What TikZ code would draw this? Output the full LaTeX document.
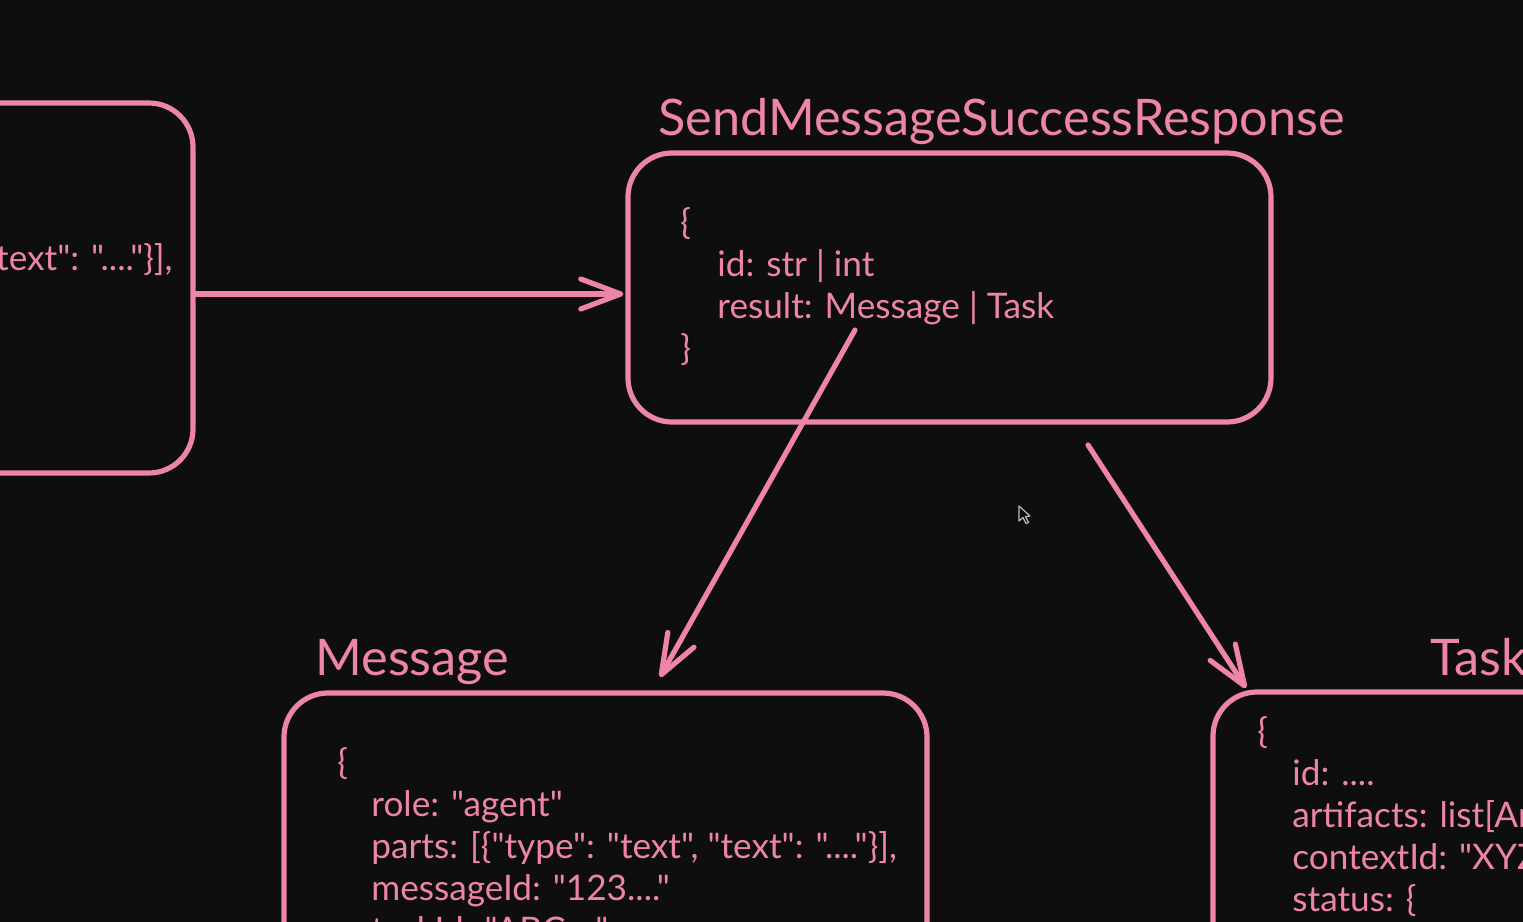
\documentclass[tikz,border=0pt]{standalone}
\usepackage{fontspec}
\setmainfont{Lato}[Ligatures=TeXOff]
\usetikzlibrary{arrows.meta}
\definecolor{bg}{RGB}{14,14,14}
\definecolor{pk}{RGB}{238,133,168}
\definecolor{cur}{RGB}{185,185,185}
\begin{document}
\begin{tikzpicture}[x=0.5pt,y=-0.5pt,
  box/.style={draw=pk, line width=2.6pt, rounded corners=22pt, rectangle, inner sep=0pt},
  code/.style={text=pk, font=\fontsize{17.6}{21}\selectfont, anchor=base west, inner sep=0pt},
  title/.style={text=pk, font=\fontsize{25.2}{30}\selectfont, anchor=base west, inner sep=0pt},
  conn/.style={draw=pk, line width=2.6pt, line cap=round,
    -{Straight Barb[length=20pt,width=15pt,line cap=round,line join=round]}}]
\useasboundingbox (0,0) rectangle (1523,922);
\fill[bg] (0,0) rectangle (1523,922);
\clip (0,0) rectangle (1523,922);

% boxes
\node[box, minimum width=321.5pt, minimum height=185pt] (lb) at (-128.5,288) {};
\node[box, minimum width=321.5pt, minimum height=134.5pt] (smsr) at (949.5,287.5) {};
\node[box, minimum width=321.5pt, minimum height=203.5pt] (msg) at (605.5,896.5) {};
\node[box, minimum width=321.5pt, minimum height=204pt] (task) at (1534.5,896) {};

% titles
\node[title] (smsrt) at (658,135) {SendMessageSuccessResponse};
\node[title] (msgt) at (315,675) {Message};
\node[title] (taskt) at (1430,675) {Task};

% left box text
\node[code, anchor=base east] (l1) at (173,270) {text": "...."\}],};

% SMSR text
\node[code] (s0) at (680,234) {\{};
\node[code] (s1) at (717,276) {id: str | int};
\node[code] (s2) at (717,318) {result: Message | Task};
\node[code] (s3) at (680,360) {\}};

% Message text
\node[code] (m0) at (337,774) {\{};
\node[code] (m1) at (371,816) {role: "agent"};
\node[code] (m2) at (371,858) {parts: [\{"type": "text", "text": "...."\}],};
\node[code] (m3) at (371,900) {messageId: "123...."};
\node[code] (m4) at (371,942) {taskId: "ABC...."};

% Task text
\node[code] (t0) at (1257,743) {\{};
\node[code] (t1) at (1292,785) {id: ....};
\node[code] (t2) at (1292,827) {artifacts: list[Artifact]};
\node[code] (t3) at (1292,869) {contextId: "XYZ...."};
\node[code] (t4) at (1292,911) {status: \{};

% connectors
\coordinate (r1) at (855,330);
\coordinate (r2) at (1088,445);
\coordinate (mtip) at (660,677);
\coordinate (ttip) at (1246,688);
\draw[conn] (lb.east |- 0,294) -- ([xshift=-1pt]smsr.west |- 0,294);
\draw[conn] (r1) -- (mtip);
\draw[conn] (r2) -- (ttip);

% mouse cursor
\draw[cur, fill=bg, line width=0.6pt, line join=round]
  (1019,506) -- (1019,521) -- (1023,517.5) -- (1026,523.5) -- (1028.5,522.5)
  -- (1025.5,516.5) -- (1030,516) -- cycle;
\end{tikzpicture}
\end{document}
